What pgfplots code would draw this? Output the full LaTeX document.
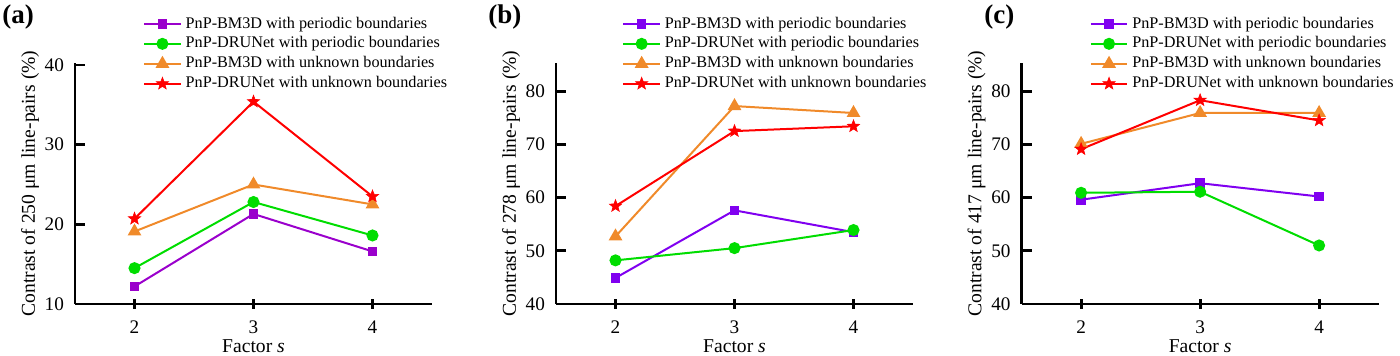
\documentclass[border=0pt]{standalone}
\usepackage{pgfplots}
\pgfplotsset{compat=1.18}
\usepackage{fontspec}
\setmainfont{Liberation Serif}
\definecolor{purA}{HTML}{9A00CC}
\definecolor{purB}{HTML}{8000F0}
\definecolor{grn}{HTML}{00DD00}
\definecolor{org}{HTML}{F08A2A}
\definecolor{rd}{HTML}{FF0000}
\pgfdeclareplotmark{fstar}{%
  \pgfpathmoveto{\pgfpointpolar{90}{\pgfplotmarksize}}%
  \pgfpathlineto{\pgfpointpolar{126}{0.42\pgfplotmarksize}}%
  \pgfpathlineto{\pgfpointpolar{162}{\pgfplotmarksize}}%
  \pgfpathlineto{\pgfpointpolar{198}{0.42\pgfplotmarksize}}%
  \pgfpathlineto{\pgfpointpolar{234}{\pgfplotmarksize}}%
  \pgfpathlineto{\pgfpointpolar{270}{0.42\pgfplotmarksize}}%
  \pgfpathlineto{\pgfpointpolar{306}{\pgfplotmarksize}}%
  \pgfpathlineto{\pgfpointpolar{342}{0.42\pgfplotmarksize}}%
  \pgfpathlineto{\pgfpointpolar{18}{\pgfplotmarksize}}%
  \pgfpathlineto{\pgfpointpolar{54}{0.42\pgfplotmarksize}}%
  \pgfpathclose
  \pgfusepathqfillstroke
}
\pgfplotsset{
  panel/.style={
    scale only axis,
    width=178.5pt, height=120.5pt,
    axis x line=bottom, axis y line=left,
    axis line style={-, line width=1.4pt},
    xmin=1.5, xmax=4.5,
    xtick={2,3,4},
    /pgf/number format/assume math mode=true,
    tick label style={font=\fontsize{9.6}{11}\selectfont},
    label style={font=\fontsize{9.8}{11}\selectfont},
    x tick style={line width=1.4pt, black},
    y tick style={line width=1.4pt, black},
    xtick align=center,
    ytick align=inside,
    major tick length=5pt,
    xticklabel style={yshift=-2.5pt},
    yticklabel style={xshift=-2pt},
    xlabel={Factor \textit{s}},
    xlabel style={yshift=4pt},
    ylabel style={yshift=-4pt},
    legend cell align=left,
    legend style={draw=none, fill=none, inner sep=0pt, row sep=-1.15pt,
      font=\fontsize{8.1}{9.4}\selectfont, anchor=north west},
    legend image code/.code={
      \draw[mark repeat=2,mark phase=2] plot coordinates {(0cm,0cm) (0.32cm,0cm) (0.64cm,0cm)};
    },
    every axis plot/.append style={line width=1pt},
  },
  sq/.style={mark=square*, mark size=1.9pt},
  ci/.style={mark=*, mark size=2.5pt},
  tr/.style={mark=triangle*, mark size=3pt},
  st/.style={mark=fstar, mark size=3.2pt, mark options={line width=0.3pt}},
}
\begin{document}
\begin{tikzpicture}
\path[use as bounding box] (0,0) rectangle (700pt,178pt);
% (a)
\begin{axis}[panel, at={(37.5pt,26pt)}, anchor=south west,
  ymin=10, ymax=40.25, ytick={10,20,30,40},
  ylabel={Contrast of 250 μm line-pairs (\%)},
  legend style={at={(rel axis cs:0.19,1.21)}}]
\addplot[color=purA, sq] coordinates {(2,12.2) (3,21.3) (4,16.6)};
\addplot[color=grn, ci] coordinates {(2,14.5) (3,22.8) (4,18.6)};
\addplot[color=org, tr] coordinates {(2,19.1) (3,25.0) (4,22.5)};
\addplot[color=rd, st] coordinates {(2,20.7) (3,35.4) (4,23.5)};
\legend{PnP-BM3D with periodic boundaries, PnP-DRUNet with periodic boundaries, PnP-BM3D with unknown boundaries, PnP-DRUNet with unknown boundaries}
\end{axis}
% (b)
\begin{axis}[panel, at={(278pt,26pt)}, anchor=south west,
  ymin=40, ymax=85.3, ytick={40,50,60,70,80},
  ylabel={Contrast of 278 μm line-pairs (\%)},
  legend style={at={(rel axis cs:0.185,1.21)}}]
\addplot[color=purB, sq] coordinates {(2,44.9) (3,57.6) (4,53.5)};
\addplot[color=grn, ci] coordinates {(2,48.2) (3,50.5) (4,53.9)};
\addplot[color=org, tr] coordinates {(2,52.7) (3,77.2) (4,75.9)};
\addplot[color=rd, st] coordinates {(2,58.4) (3,72.5) (4,73.4)};
\legend{PnP-BM3D with periodic boundaries, PnP-DRUNet with periodic boundaries, PnP-BM3D with unknown boundaries, PnP-DRUNet with unknown boundaries}
\end{axis}
% (c)
\begin{axis}[panel, at={(510.8pt,26pt)}, anchor=south west,
  ymin=40, ymax=85.3, ytick={40,50,60,70,80},
  ylabel={Contrast of 417 μm line-pairs (\%)},
  legend style={at={(rel axis cs:0.19,1.21)}}]
\addplot[color=purB, sq] coordinates {(2,59.6) (3,62.7) (4,60.2)};
\addplot[color=grn, ci] coordinates {(2,60.9) (3,61.1) (4,51.0)};
\addplot[color=org, tr] coordinates {(2,70.1) (3,75.9) (4,75.9)};
\addplot[color=rd, st] coordinates {(2,69.1) (3,78.3) (4,74.5)};
\legend{PnP-BM3D with periodic boundaries, PnP-DRUNet with periodic boundaries, PnP-BM3D with unknown boundaries, PnP-DRUNet with unknown boundaries}
\end{axis}
\node[anchor=north west, inner sep=0pt, font=\fontsize{13.5}{15}\selectfont\bfseries] at (1pt,176pt) {(a)};
\node[anchor=north west, inner sep=0pt, font=\fontsize{13.5}{15}\selectfont\bfseries] at (244pt,176pt) {(b)};
\node[anchor=north west, inner sep=0pt, font=\fontsize{13.5}{15}\selectfont\bfseries] at (492pt,176pt) {(c)};
\end{tikzpicture}
\end{document}
